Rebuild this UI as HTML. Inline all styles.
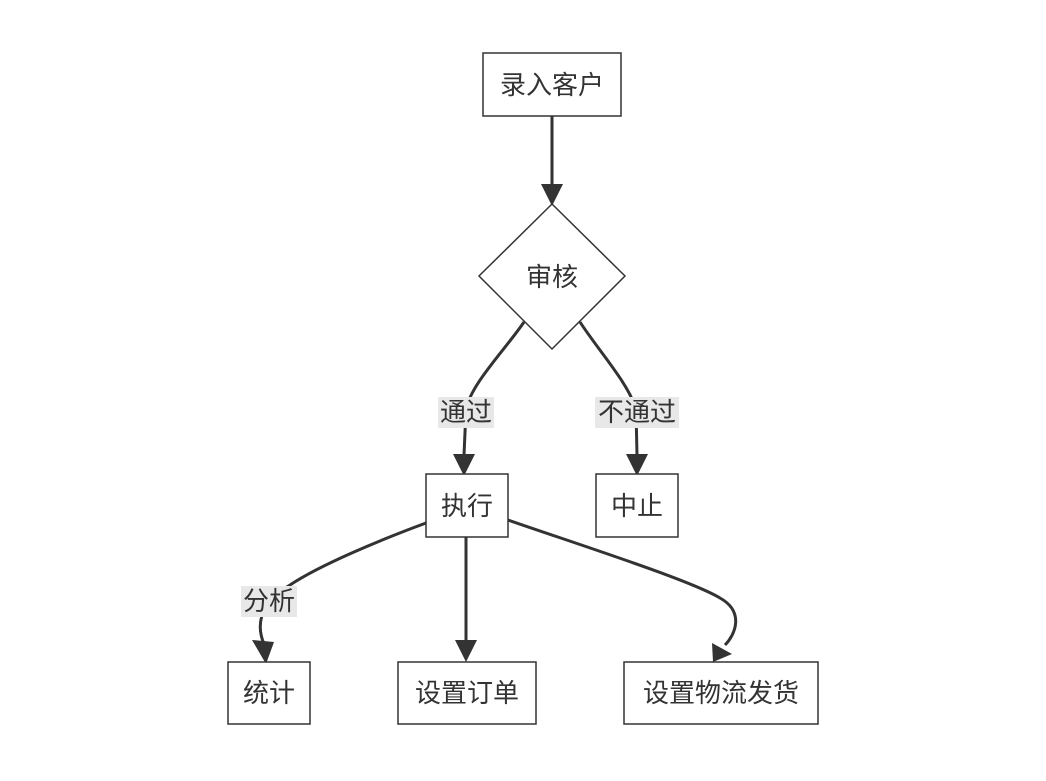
<!DOCTYPE html>
<html><head><meta charset="utf-8"><style>
html,body{margin:0;padding:0;background:#fff;}
svg{display:block;}
text{font-family:"Liberation Sans","Noto Sans CJK SC",sans-serif;font-size:26px;fill:#333;}
</style></head><body>
<svg width="1046" height="781" viewBox="0 0 1046 781" xmlns="http://www.w3.org/2000/svg">
<defs>
<marker id="a" viewBox="0 0 10 10" refX="9" refY="5" markerWidth="7" markerHeight="7" markerUnits="userSpaceOnUse" orient="auto">
</marker>
</defs>
<g fill="none" stroke="#333" stroke-width="3">
<path d="M552 116 L552 186"/>
<path d="M524 322 C505 350 470 385 466 410 L464 455"/>
<path d="M580 322 C598 350 630 385 636 410 L637 455"/>
<path d="M426 523 C380 540 320 565 290 585 C255 605 258 630 264 644"/>
<path d="M466 537 L466 644"/>
<path d="M508 520 C580 545 690 580 720 598 C745 612 735 635 725 645"/>
</g>
<g fill="#333">
<polygon points="541,184 563,184 552,206"/>
<polygon points="453,454 475,454 464,476"/>
<polygon points="626,454 648,454 637,476"/>
<polygon points="252,640 274,642 266,664"/>
<polygon points="455,640 477,640 466,662"/>
<polygon points="712,643 732,654 713,662"/>
</g>
<g fill="#fff" stroke="#333" stroke-width="1.5">
<rect x="483" y="53" width="138" height="63"/>
<polygon points="552,204 625,276 552,349 479,276"/>
<rect x="426" y="474" width="82" height="63"/>
<rect x="596" y="474" width="82" height="63"/>
<rect x="228" y="662" width="82" height="62"/>
<rect x="398" y="662" width="138" height="62"/>
<rect x="624" y="662" width="194" height="62"/>
</g>
<g fill="#e8e8e8">
<rect x="438" y="397" width="56" height="31"/>
<rect x="595" y="397" width="84" height="31"/>
<rect x="241" y="586" width="56" height="31"/>
</g>
<g text-anchor="middle">
<text x="552" y="94">录入客户</text>
<text x="552" y="286">审核</text>
<text x="466" y="421">通过</text>
<text x="637" y="421">不通过</text>
<text x="467" y="515">执行</text>
<text x="637" y="515">中止</text>
<text x="269" y="610">分析</text>
<text x="269" y="702">统计</text>
<text x="467" y="702">设置订单</text>
<text x="721" y="702">设置物流发货</text>
</g>
</svg>
</body></html>
